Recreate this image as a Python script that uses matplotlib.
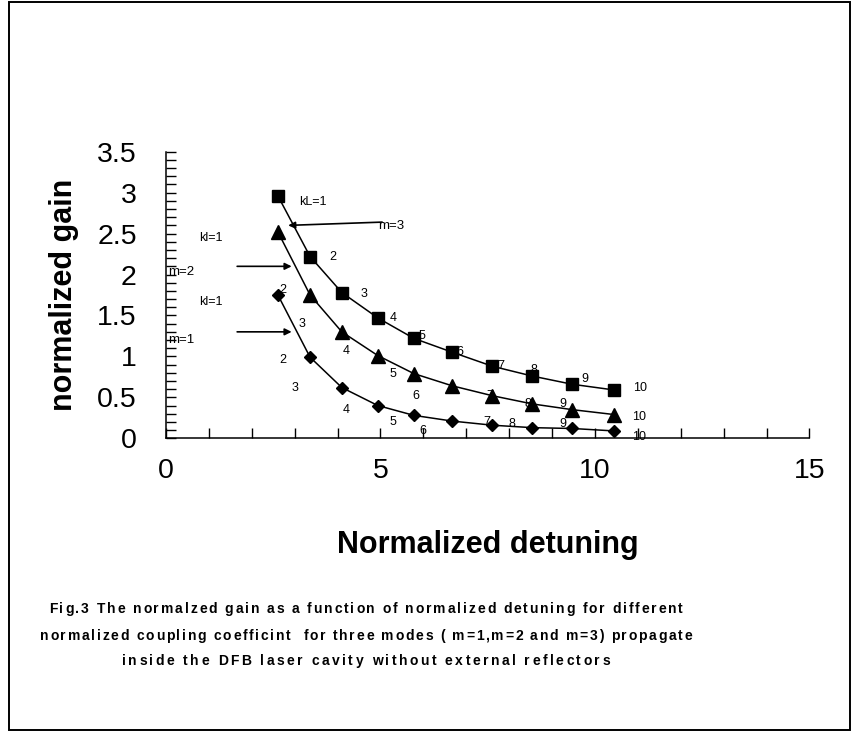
import matplotlib
matplotlib.use('Agg')
import matplotlib.pyplot as plt
from matplotlib.ticker import MultipleLocator, FuncFormatter
from matplotlib.patches import Rectangle
from matplotlib.font_manager import FontProperties, findfont
from matplotlib.ft2font import FT2Font

plt.rcParams['font.family'] = ['Liberation Sans', 'DejaVu Sans']

# normalized detuning (same for all three modes)
detuning = [2.61, 3.36, 4.10, 4.94, 5.78, 6.68, 7.61, 8.54, 9.47, 10.45]
gain_m3 = [2.96, 2.22, 1.78, 1.47, 1.22, 1.05, 0.88, 0.76, 0.66, 0.59]
gain_m2 = [2.52, 1.75, 1.30, 1.01, 0.79, 0.64, 0.52, 0.42, 0.35, 0.29]
gain_m1 = [1.75, 0.99, 0.62, 0.40, 0.28, 0.21, 0.16, 0.13, 0.12, 0.09]

# point labels (kL values) and where they sit
labels_m3 = ['kL=1', '2', '3', '4', '5', '6', '7', '8', '9', '10']
labels_m2 = ['kl=1', '2', '3', '4', '5', '6', '7', '8', '9', '10']
labels_m1 = ['kl=1', '2', '3', '4', '5', '6', '7', '8', '9', '10']
lab_x_m3 = [3.43, 3.90, 4.62, 5.30, 5.96, 6.86, 7.81, 8.59, 9.77, 11.05]
lab_y_m3 = [2.89, 2.22, 1.76, 1.47, 1.25, 1.06, 0.88, 0.83, 0.72, 0.61]
lab_x_m2 = [1.05, 2.73, 3.17, 4.20, 5.29, 5.83, 7.55, 8.45, 9.25, 11.03]
lab_y_m2 = [2.45, 1.81, 1.40, 1.07, 0.79, 0.52, 0.52, 0.42, 0.42, 0.26]
lab_x_m1 = [1.05, 2.72, 3.01, 4.20, 5.30, 6.00, 7.48, 8.06, 9.25, 11.03]
lab_y_m1 = [1.67, 0.96, 0.61, 0.35, 0.20, 0.09, 0.20, 0.17, 0.17, 0.02]

caption = ['Fig.3 The normalzed gain as a function of normalized detuning for different',
           'normalized coupling coefficint  for three modes ( m=1,m=2 and m=3) propagate',
           'inside the DFB laser cavity without external reflectors']
caption_width = [634, 652, 488]   # pixels, text is letter-spaced in the original
caption_y = [613, 640, 665]       # baselines

fig = plt.figure(figsize=(8.54, 7.31), dpi=100)
ax = fig.add_axes([0.1943, 0.4004, 0.7535, 0.3921])

ax.plot(detuning, gain_m3, color='black', lw=1.1, marker='s', ms=8.6)
ax.plot(detuning, gain_m2, color='black', lw=1.1, marker='^', ms=9.5)
ax.plot(detuning, gain_m1, color='black', lw=1.1, marker='D', ms=6.3)

for labs, xs, ys in [(labels_m3, lab_x_m3, lab_y_m3),
                     (labels_m2, lab_x_m2, lab_y_m2),
                     (labels_m1, lab_x_m1, lab_y_m1)]:
    for t, x, y in zip(labs, xs, ys):
        ax.text(x, y, t, fontsize=9, ha='center', va='center')

arrow = dict(arrowstyle='-|>', color='black', lw=1.2, mutation_scale=10,
             shrinkA=0, shrinkB=0)
ax.annotate('', xy=(2.85, 2.60), xytext=(5.04, 2.64), arrowprops=arrow)
ax.annotate('', xy=(2.93, 2.10), xytext=(1.66, 2.10), arrowprops=arrow)
ax.annotate('', xy=(2.93, 1.30), xytext=(1.66, 1.30), arrowprops=arrow)
ax.text(5.26, 2.59, 'm=3', fontsize=9.5, ha='center', va='center')
ax.text(0.36, 2.03, 'm=2', fontsize=9.5, ha='center', va='center')
ax.text(0.36, 1.20, 'm=1', fontsize=9.5, ha='center', va='center')

ax.set_xlim(0, 15)
ax.set_ylim(0, 3.5)
ax.xaxis.set_major_locator(MultipleLocator(5))
ax.xaxis.set_minor_locator(MultipleLocator(1))
ax.yaxis.set_major_locator(MultipleLocator(0.5))
ax.yaxis.set_minor_locator(MultipleLocator(0.1))
ax.yaxis.set_major_formatter(FuncFormatter(lambda v, p: '%g' % v))
ax.tick_params(which='both', direction='in', length=7, width=1)
ax.tick_params(axis='x', which='major', labelsize=20.5, pad=14)
ax.tick_params(axis='y', which='major', labelsize=20.5, pad=21)

for s in ['top', 'right']:
    ax.spines[s].set_visible(False)
for s in ['left', 'bottom']:
    ax.spines[s].set_linewidth(1.1)

ax.set_xlabel('Normalized detuning', fontsize=22, fontweight='bold', va='center')
ax.xaxis.set_label_coords(0.5, -0.372)
ax.set_ylabel('normalized gain', fontsize=22, fontweight='bold', va='center')
ax.yaxis.set_label_coords(-0.158, 0.5)

# caption, drawn letter by letter to get the wide spacing of the original
cap_size = 10
font = FT2Font(findfont(FontProperties(family='Liberation Sans', weight='bold')),
               hinting_factor=1)
font.set_size(cap_size, 100)
for line, width, ypix in zip(caption, caption_width, caption_y):
    adv = [font.load_char(ord(c)).linearHoriAdvance / 65536 for c in line]
    gap = (width - sum(adv)) / (len(line) - 1)
    xpix = 366 - width / 2
    for c, a in zip(line, adv):
        if c != ' ':
            fig.text(xpix / 854, 1 - ypix / 731, c, fontsize=cap_size,
                     fontweight='bold', ha='left', va='baseline')
        xpix += a + gap

fig.patches.append(Rectangle((0.0105, 0.0014), 0.9848, 0.9959, fill=False,
                             edgecolor='black', lw=1.4, transform=fig.transFigure))

plt.savefig('out.png', dpi=100)
plt.close()
